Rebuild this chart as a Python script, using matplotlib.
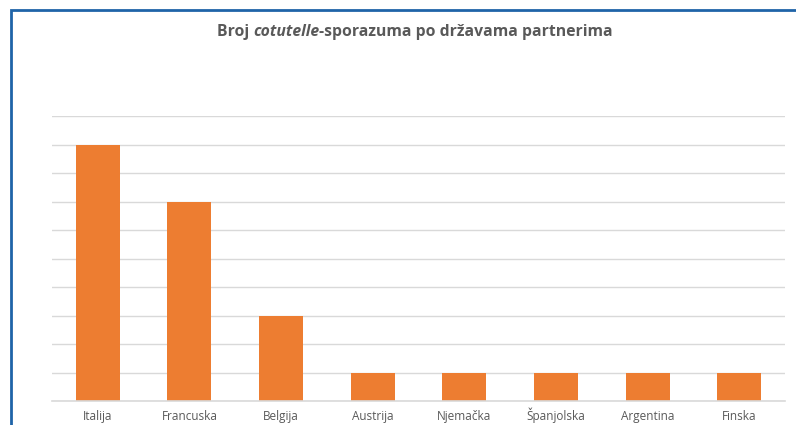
import matplotlib.pyplot as plt
from matplotlib.patches import Rectangle

countries = ['Italija', 'Francuska', 'Belgija', 'Austrija', 'Njemačka',
             'Španjolska', 'Argentina', 'Finska']
agreements = [9, 7, 3, 1, 1, 1, 1, 1]

plt.rcParams['font.family'] = ['Open Sans', 'DejaVu Sans']

fig = plt.figure(figsize=(7.96, 4.25), dpi=100)
ax = fig.add_axes([52 / 796, 24 / 425, 733 / 796, 285 / 425])

x = range(len(countries))
ax.bar(x, agreements, width=0.48, color='#ED7D31', zorder=3)

ax.set_xlim(-0.5, len(countries) - 0.5)
ax.set_ylim(0, 10)
ax.set_yticks(range(0, 11))
ax.set_yticklabels([])
ax.set_xticks(list(x))
ax.set_xticklabels(countries, fontsize=8.5, color='#595959', va='baseline')
ax.tick_params(length=0, pad=14)
ax.grid(axis='y', color='#d9d9d9', linewidth=1, zorder=0)
ax.axhline(0, color='#d9d9d9', linewidth=1.2, zorder=4, clip_on=False)
for s in ax.spines.values():
    s.set_visible(False)

# blue frame (cut off at right and bottom)
fig.patches.append(Rectangle((11 / 796, -0.2), 1.2, (415 / 425) + 0.2,
                             transform=fig.transFigure, fill=False,
                             edgecolor='#1f64a8', linewidth=2))

# title with italic part
parts = [('Broj ', 'normal'), ('cotutelle', 'italic'),
         ('-sporazuma po državama partnerima', 'normal')]
fig.canvas.draw()
r = fig.canvas.get_renderer()
texts = []
for s, st in parts:
    t = fig.text(0, 0, s, fontsize=11.3, fontweight='bold', style=st,
                 color='#595959', va='baseline')
    texts.append(t)
widths = [t.get_window_extent(r).width for t in texts]
total = sum(widths)
x0 = 415 - total / 2
for t, w in zip(texts, widths):
    t.set_position((x0 / 796, (425 - 36) / 425))
    x0 += w

fig.savefig('out.png', dpi=100)
